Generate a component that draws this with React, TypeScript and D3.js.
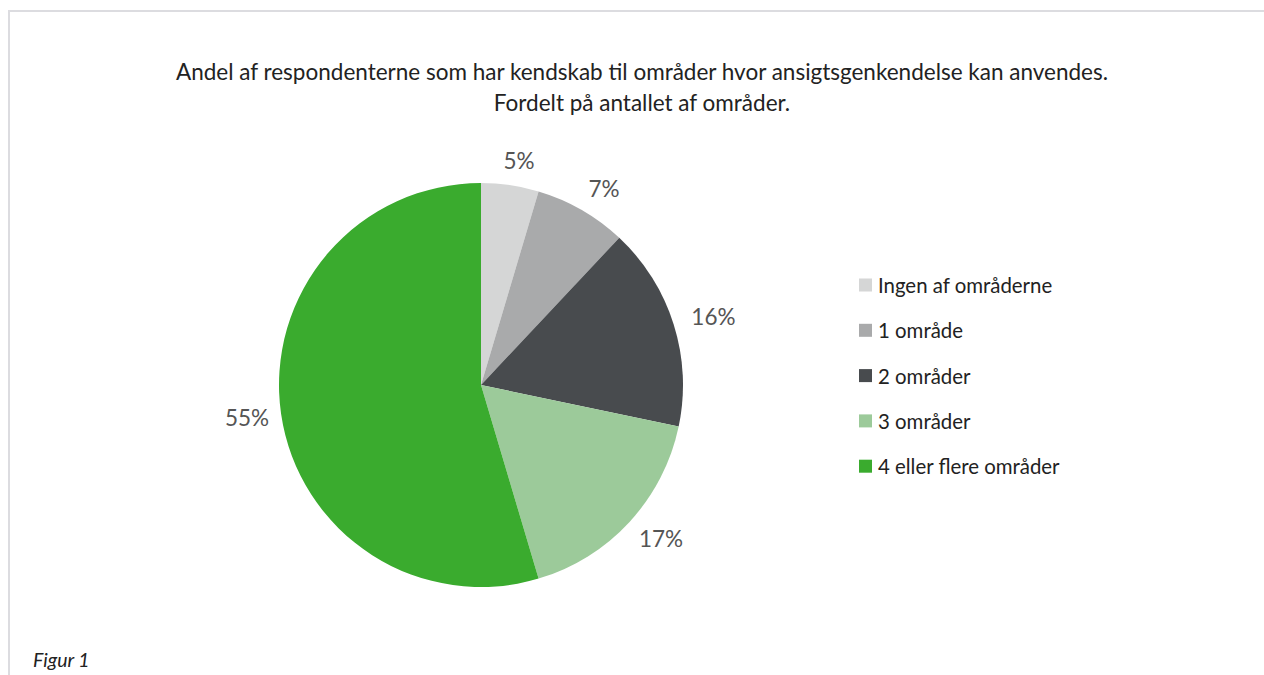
import React from "react";
import * as d3 from "d3";

const categories = ["Ingen af områderne", "1 område", "2 områder", "3 områder", "4 eller flere områder"];
const values = [4.6, 7.4, 16.3, 17.1, 54.6];
const labels = ["5%", "7%", "16%", "17%", "55%"];
const colors = ["#d5d6d6", "#a9aaab", "#484b4e", "#9cca9a", "#3aab2e"];
const titleLines = [
  "Andel af respondenterne som har kendskab til områder hvor ansigtsgenkendelse kan anvendes.",
  "Fordelt på antallet af områder.",
];

export default function App() {
  const W = 1264, H = 675;
  const cx = 481, cy = 385, r = 202;
  const lrx = 240, lry = 227, lshift = 3.5;
  const pie = d3.pie<number>().sort(null).value((d) => d)(values);
  const arc = d3.arc<d3.PieArcDatum<number>>().innerRadius(0).outerRadius(r);
  const font = "Lato, 'Open Sans', sans-serif";
  return (
    <svg width={W} height={H} style={{ position: "absolute", left: 0, top: 0 }} fontFamily={font}>
      <rect x={0} y={0} width={W} height={H} fill="#fff" />
      <rect x={9} y={11} width={W + 20} height={H + 20} fill="none" stroke="#dcdce0" strokeWidth={2} />
      {titleLines.map((t, i) => (
        <text key={i} x={642} y={80 + i * 31} textAnchor="middle" fontSize={22.5} fill="#222">
          {t}
        </text>
      ))}
      <g transform={`translate(${cx},${cy})`}>
        {pie.map((p, i) => (
          <path key={i} d={arc(p) || ""} fill={colors[i]} />
        ))}
        {pie.map((p, i) => {
          const a = (p.startAngle + p.endAngle) / 2;
          return (
            <text key={i} x={Math.sin(a) * lrx + lshift} y={-Math.cos(a) * lry} textAnchor="middle" dominantBaseline="central" fontSize={22.5} fill="#555">
              {labels[i]}
            </text>
          );
        })}
      </g>
      {categories.map((c, i) => (
        <g key={i} transform={`translate(859,${285 + i * 45.3})`}>
          <rect x={0} y={-6.5} width={13} height={13} fill={colors[i]} />
          <text x={19} y={0} dominantBaseline="central" fontSize={20.4} fill="#222">
            {c}
          </text>
        </g>
      ))}
      <text x={33} y={667} fontSize={19.5} fontStyle="italic" fill="#222">
        Figur 1
      </text>
    </svg>
  );
}
